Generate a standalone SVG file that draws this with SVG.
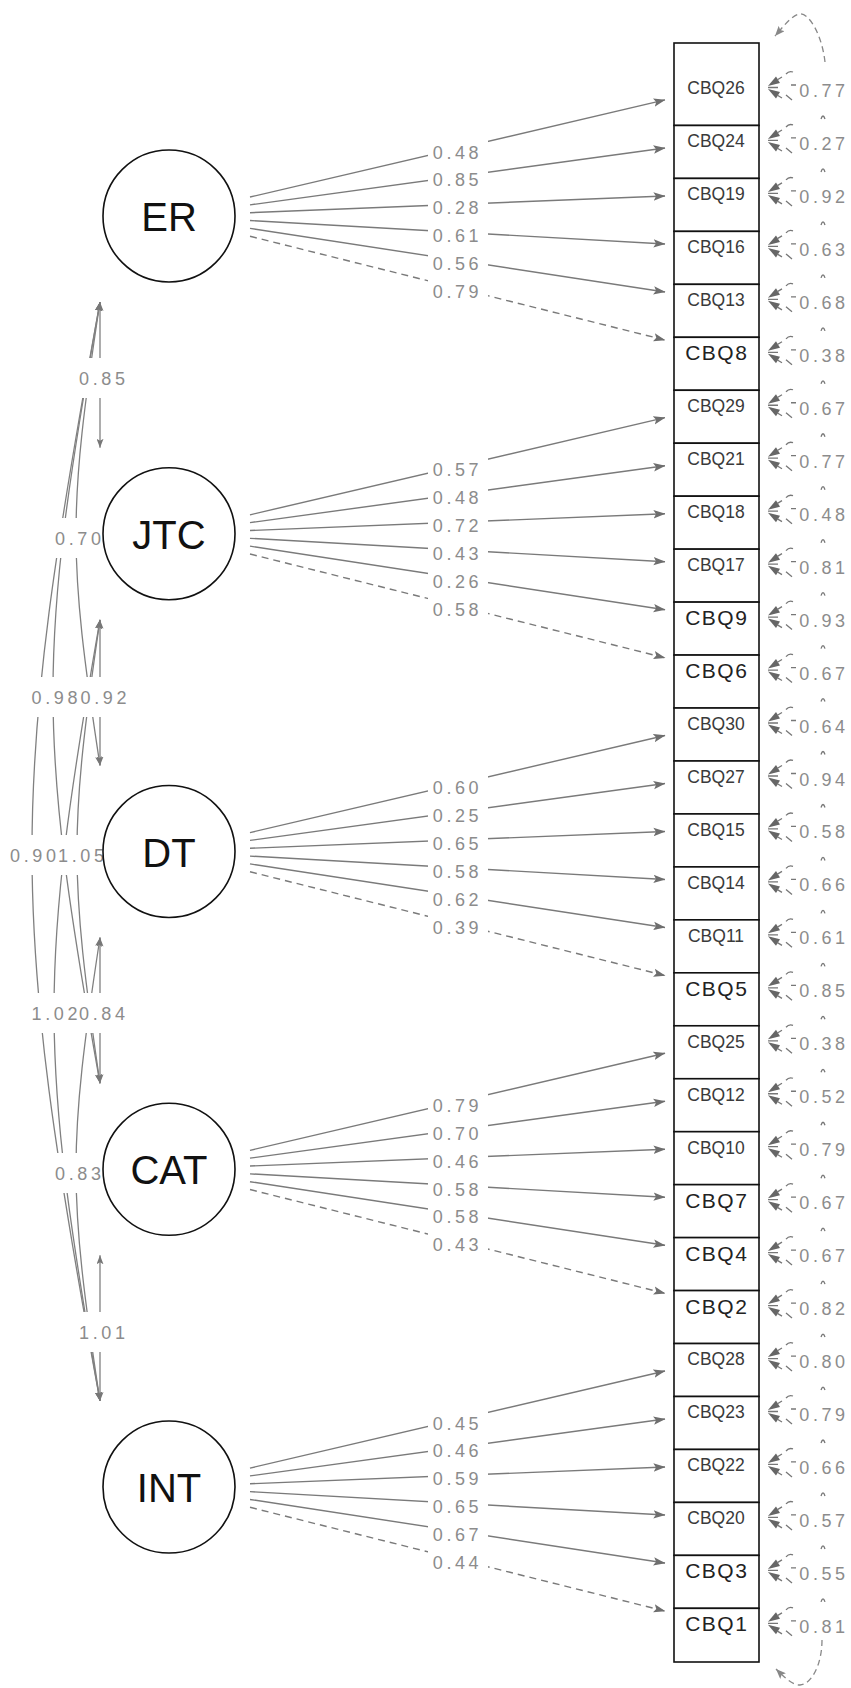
<svg xmlns="http://www.w3.org/2000/svg" xmlns:xlink="http://www.w3.org/1999/xlink" width="851" height="1688" viewBox="0 0 851 1688">
  <style>
    .lat circle { fill: #fff; stroke: #111; stroke-width: 1.6; }
    .lat text { font-family: "Liberation Sans", Arial, sans-serif; font-size: 40px; fill: #111; text-anchor: middle; }
    .man rect { fill: #fff; stroke: #111; stroke-width: 1.6; }
    .man text { font-family: "Liberation Sans", Arial, sans-serif; text-anchor: middle; }
    .sm { font-size: 17.5px; fill: #3a3a3a; }
    .lg { font-size: 21px; fill: #222; letter-spacing: 1.5px; }
    .ld { stroke: #7a7a7a; stroke-width: 1.4; fill: none; marker-end: url(#ah); }
    .mk { stroke-dasharray: 7 5; }
    .lbl { font-family: "Liberation Sans", Arial, sans-serif; font-size: 18px; fill: #8c8c8c; letter-spacing: 3.6px; text-anchor: middle; }
    .bg { fill: #fff; }
    .cov { stroke: #808080; stroke-width: 1.3; fill: none; marker-start: url(#ch); marker-end: url(#ch); }
    .res { stroke: #777; stroke-width: 1.3; fill: none; }
    .loop { stroke: #888; stroke-width: 1.3; fill: none; stroke-dasharray: 6 4; marker-end: url(#lh); }
  </style>
  <defs>
    <marker id="ah" viewBox="0 0 12 10" refX="11.5" refY="5" markerWidth="12" markerHeight="10" markerUnits="userSpaceOnUse" orient="auto">
      <path d="M0,0.8 L12,5 L0,9.2 L2.5,5 Z" fill="#6e6e6e"/>
    </marker>
    <marker id="ch" viewBox="0 0 9 7" refX="9" refY="3.5" markerWidth="9" markerHeight="7" markerUnits="userSpaceOnUse" orient="auto-start-reverse">
      <path d="M0,0 L9,3.5 L0,7 L2,3.5 Z" fill="#777"/>
    </marker>
    <marker id="lh" viewBox="0 0 10 8" refX="10" refY="4" markerWidth="10" markerHeight="8" markerUnits="userSpaceOnUse" orient="auto">
      <path d="M0,0 L10,4 L0,8 L2,4 Z" fill="#888"/>
    </marker>
    <!-- residual variance marks, origin on the right edge of a box at its label height -->
    <g id="rm">
      <polygon points="9,-2 21,-5 17,-11.5" fill="#666"/>
      <polygon points="9,1 21,4 17,10.5" fill="#666"/>
      <path class="res" d="M 9,-0.5 L 19,-0.5 M 18,-8 L 23,-11 M 18,7 L 23,10"/>
      <path class="res" d="M 27,-14 Q 30,-17.5 34,-16 M 32,-3 L 37,-3 M 27,7 L 33,12"/>
    </g>
    <path id="tick" class="res" d="M 62,31 Q 64,25 66,31"/>
  </defs>

  <!-- connectors -->
  <g id="connectors">
    <!-- factor loadings: one block per latent, local origin at the latent's height -->
    <g id="loadings-ER" transform="translate(0,216)">
      <path class="ld" d="M250,-18.95 L665,-116.07"/>
      <path class="ld" d="M250,-11.11 L665,-68.04"/>
      <path class="ld" d="M250,-3.27 L665,-20.02"/>
      <path class="ld" d="M250,4.57 L665,28"/>
      <path class="ld" d="M250,12.41 L665,76.02"/>
      <path class="ld mk" d="M250,20.26 L665,124.04"/>
      <rect class="bg" x="428" y="-76.5" width="60" height="22"/>
      <rect class="bg" x="428" y="-48.6" width="60" height="22"/>
      <rect class="bg" x="428" y="-20.7" width="60" height="22"/>
      <rect class="bg" x="428" y="7.3" width="60" height="22"/>
      <rect class="bg" x="428" y="35.2" width="60" height="22"/>
      <rect class="bg" x="428" y="63.2" width="60" height="22"/>
      <text class="lbl" x="457.5" y="-57.5">0.48</text>
      <text class="lbl" x="457.5" y="-29.6">0.85</text>
      <text class="lbl" x="457.5" y="-1.6">0.28</text>
      <text class="lbl" x="457.5" y="26.3">0.61</text>
      <text class="lbl" x="457.5" y="54.2">0.56</text>
      <text class="lbl" x="457.5" y="82.2">0.79</text>
    </g>
    <g id="loadings-JTC" transform="translate(0,533.76)">
      <path class="ld" d="M250,-18.95 L665,-116.07"/>
      <path class="ld" d="M250,-11.11 L665,-68.04"/>
      <path class="ld" d="M250,-3.27 L665,-20.02"/>
      <path class="ld" d="M250,4.57 L665,28"/>
      <path class="ld" d="M250,12.41 L665,76.02"/>
      <path class="ld mk" d="M250,20.26 L665,124.04"/>
      <rect class="bg" x="428" y="-76.5" width="60" height="22"/>
      <rect class="bg" x="428" y="-48.6" width="60" height="22"/>
      <rect class="bg" x="428" y="-20.7" width="60" height="22"/>
      <rect class="bg" x="428" y="7.3" width="60" height="22"/>
      <rect class="bg" x="428" y="35.2" width="60" height="22"/>
      <rect class="bg" x="428" y="63.2" width="60" height="22"/>
      <text class="lbl" x="457.5" y="-57.5">0.57</text>
      <text class="lbl" x="457.5" y="-29.6">0.48</text>
      <text class="lbl" x="457.5" y="-1.6">0.72</text>
      <text class="lbl" x="457.5" y="26.3">0.43</text>
      <text class="lbl" x="457.5" y="54.2">0.26</text>
      <text class="lbl" x="457.5" y="82.2">0.58</text>
    </g>
    <g id="loadings-DT" transform="translate(0,851.52)">
      <path class="ld" d="M250,-18.95 L665,-116.07"/>
      <path class="ld" d="M250,-11.11 L665,-68.04"/>
      <path class="ld" d="M250,-3.27 L665,-20.02"/>
      <path class="ld" d="M250,4.57 L665,28"/>
      <path class="ld" d="M250,12.41 L665,76.02"/>
      <path class="ld mk" d="M250,20.26 L665,124.04"/>
      <rect class="bg" x="428" y="-76.5" width="60" height="22"/>
      <rect class="bg" x="428" y="-48.6" width="60" height="22"/>
      <rect class="bg" x="428" y="-20.7" width="60" height="22"/>
      <rect class="bg" x="428" y="7.3" width="60" height="22"/>
      <rect class="bg" x="428" y="35.2" width="60" height="22"/>
      <rect class="bg" x="428" y="63.2" width="60" height="22"/>
      <text class="lbl" x="457.5" y="-57.5">0.60</text>
      <text class="lbl" x="457.5" y="-29.6">0.25</text>
      <text class="lbl" x="457.5" y="-1.6">0.65</text>
      <text class="lbl" x="457.5" y="26.3">0.58</text>
      <text class="lbl" x="457.5" y="54.2">0.62</text>
      <text class="lbl" x="457.5" y="82.2">0.39</text>
    </g>
    <g id="loadings-CAT" transform="translate(0,1169.28)">
      <path class="ld" d="M250,-18.95 L665,-116.07"/>
      <path class="ld" d="M250,-11.11 L665,-68.04"/>
      <path class="ld" d="M250,-3.27 L665,-20.02"/>
      <path class="ld" d="M250,4.57 L665,28"/>
      <path class="ld" d="M250,12.41 L665,76.02"/>
      <path class="ld mk" d="M250,20.26 L665,124.04"/>
      <rect class="bg" x="428" y="-76.5" width="60" height="22"/>
      <rect class="bg" x="428" y="-48.6" width="60" height="22"/>
      <rect class="bg" x="428" y="-20.7" width="60" height="22"/>
      <rect class="bg" x="428" y="7.3" width="60" height="22"/>
      <rect class="bg" x="428" y="35.2" width="60" height="22"/>
      <rect class="bg" x="428" y="63.2" width="60" height="22"/>
      <text class="lbl" x="457.5" y="-57.5">0.79</text>
      <text class="lbl" x="457.5" y="-29.6">0.70</text>
      <text class="lbl" x="457.5" y="-1.6">0.46</text>
      <text class="lbl" x="457.5" y="26.3">0.58</text>
      <text class="lbl" x="457.5" y="54.2">0.58</text>
      <text class="lbl" x="457.5" y="82.2">0.43</text>
    </g>
    <g id="loadings-INT" transform="translate(0,1487.04)">
      <path class="ld" d="M250,-18.95 L665,-116.07"/>
      <path class="ld" d="M250,-11.11 L665,-68.04"/>
      <path class="ld" d="M250,-3.27 L665,-20.02"/>
      <path class="ld" d="M250,4.57 L665,28"/>
      <path class="ld" d="M250,12.41 L665,76.02"/>
      <path class="ld mk" d="M250,20.26 L665,124.04"/>
      <rect class="bg" x="428" y="-76.5" width="60" height="22"/>
      <rect class="bg" x="428" y="-48.6" width="60" height="22"/>
      <rect class="bg" x="428" y="-20.7" width="60" height="22"/>
      <rect class="bg" x="428" y="7.3" width="60" height="22"/>
      <rect class="bg" x="428" y="35.2" width="60" height="22"/>
      <rect class="bg" x="428" y="63.2" width="60" height="22"/>
      <text class="lbl" x="457.5" y="-57.5">0.45</text>
      <text class="lbl" x="457.5" y="-29.6">0.46</text>
      <text class="lbl" x="457.5" y="-1.6">0.59</text>
      <text class="lbl" x="457.5" y="26.3">0.65</text>
      <text class="lbl" x="457.5" y="54.2">0.67</text>
      <text class="lbl" x="457.5" y="82.2">0.44</text>
    </g>

    <!-- latent covariances, bowed out to the left -->
    <g id="covariances">
      <path class="cov" d="M100,302 L100,447.8"/>
      <path class="cov" d="M100,302 C68,510.6 68,556.9 100,765.5"/>
      <path class="cov" d="M100,302 C37.3,653.6 37.3,731.7 100,1083.3"/>
      <path class="cov" d="M100,302 C9.3,796.6 9.3,906.4 100,1401"/>
      <path class="cov" d="M100,619.8 L100,765.5"/>
      <path class="cov" d="M100,619.8 C69.3,828.4 69.3,874.7 100,1083.3"/>
      <path class="cov" d="M100,619.8 C38.7,971.3 38.7,1049.5 100,1401"/>
      <path class="cov" d="M100,937.5 L100,1083.3"/>
      <path class="cov" d="M100,937.5 C68,1146.1 68,1192.4 100,1401"/>
      <path class="cov" d="M100,1255.3 L100,1401"/>
      <rect class="bg" x="77" y="358" width="50" height="40"/>
      <rect class="bg" x="53" y="518" width="50" height="40"/>
      <rect class="bg" x="30" y="677" width="50" height="40"/>
      <rect class="bg" x="78" y="677" width="50" height="40"/>
      <rect class="bg" x="8" y="835" width="50" height="40"/>
      <rect class="bg" x="56" y="835" width="50" height="40"/>
      <rect class="bg" x="30" y="993" width="50" height="40"/>
      <rect class="bg" x="77" y="993" width="50" height="40"/>
      <rect class="bg" x="53" y="1153" width="50" height="40"/>
      <rect class="bg" x="77" y="1312" width="50" height="40"/>
      <text class="lbl" x="103.8" y="384.5">0.85</text>
      <text class="lbl" x="79.8" y="544.5">0.70</text>
      <text class="lbl" x="56.3" y="703.5">0.98</text>
      <text class="lbl" x="105.3" y="703.5">0.92</text>
      <text class="lbl" x="34.8" y="861.5">0.90</text>
      <text class="lbl" x="82.8" y="861.5">1.05</text>
      <text class="lbl" x="56.3" y="1019.5">1.02</text>
      <text class="lbl" x="103.8" y="1019.5">0.84</text>
      <text class="lbl" x="79.8" y="1179.5">0.83</text>
      <text class="lbl" x="103.8" y="1338.5">1.01</text>
    </g>

    <!-- residual variances on the right of the indicator column -->
    <g id="residuals">
      <path class="loop" d="M825,62 C822,35 809,12 799,14 C791,16 783,27 775,36"/>
      <path class="loop" d="M822,1640 C822,1664 812,1684 800,1685 C792,1685 784,1677 776,1669"/>
      <use href="#rm" x="759" y="88"/>
      <use href="#rm" x="759" y="140.96"/>
      <use href="#rm" x="759" y="193.92"/>
      <use href="#rm" x="759" y="246.88"/>
      <use href="#rm" x="759" y="299.84"/>
      <use href="#rm" x="759" y="352.8"/>
      <use href="#rm" x="759" y="405.76"/>
      <use href="#rm" x="759" y="458.72"/>
      <use href="#rm" x="759" y="511.68"/>
      <use href="#rm" x="759" y="564.64"/>
      <use href="#rm" x="759" y="617.6"/>
      <use href="#rm" x="759" y="670.56"/>
      <use href="#rm" x="759" y="723.52"/>
      <use href="#rm" x="759" y="776.48"/>
      <use href="#rm" x="759" y="829.44"/>
      <use href="#rm" x="759" y="882.4"/>
      <use href="#rm" x="759" y="935.36"/>
      <use href="#rm" x="759" y="988.32"/>
      <use href="#rm" x="759" y="1041.28"/>
      <use href="#rm" x="759" y="1094.24"/>
      <use href="#rm" x="759" y="1147.2"/>
      <use href="#rm" x="759" y="1200.16"/>
      <use href="#rm" x="759" y="1253.12"/>
      <use href="#rm" x="759" y="1306.08"/>
      <use href="#rm" x="759" y="1359.04"/>
      <use href="#rm" x="759" y="1412"/>
      <use href="#rm" x="759" y="1464.96"/>
      <use href="#rm" x="759" y="1517.92"/>
      <use href="#rm" x="759" y="1570.88"/>
      <use href="#rm" x="759" y="1623.84"/>
      <use href="#tick" x="759" y="88"/>
      <use href="#tick" x="759" y="140.96"/>
      <use href="#tick" x="759" y="193.92"/>
      <use href="#tick" x="759" y="246.88"/>
      <use href="#tick" x="759" y="299.84"/>
      <use href="#tick" x="759" y="352.8"/>
      <use href="#tick" x="759" y="405.76"/>
      <use href="#tick" x="759" y="458.72"/>
      <use href="#tick" x="759" y="511.68"/>
      <use href="#tick" x="759" y="564.64"/>
      <use href="#tick" x="759" y="617.6"/>
      <use href="#tick" x="759" y="670.56"/>
      <use href="#tick" x="759" y="723.52"/>
      <use href="#tick" x="759" y="776.48"/>
      <use href="#tick" x="759" y="829.44"/>
      <use href="#tick" x="759" y="882.4"/>
      <use href="#tick" x="759" y="935.36"/>
      <use href="#tick" x="759" y="988.32"/>
      <use href="#tick" x="759" y="1041.28"/>
      <use href="#tick" x="759" y="1094.24"/>
      <use href="#tick" x="759" y="1147.2"/>
      <use href="#tick" x="759" y="1200.16"/>
      <use href="#tick" x="759" y="1253.12"/>
      <use href="#tick" x="759" y="1306.08"/>
      <use href="#tick" x="759" y="1359.04"/>
      <use href="#tick" x="759" y="1412"/>
      <use href="#tick" x="759" y="1464.96"/>
      <use href="#tick" x="759" y="1517.92"/>
      <use href="#tick" x="759" y="1570.88"/>
      <text class="lbl" x="824" y="97">0.77</text>
      <text class="lbl" x="824" y="150">0.27</text>
      <text class="lbl" x="824" y="202.9">0.92</text>
      <text class="lbl" x="824" y="255.9">0.63</text>
      <text class="lbl" x="824" y="308.8">0.68</text>
      <text class="lbl" x="824" y="361.8">0.38</text>
      <text class="lbl" x="824" y="414.8">0.67</text>
      <text class="lbl" x="824" y="467.7">0.77</text>
      <text class="lbl" x="824" y="520.7">0.48</text>
      <text class="lbl" x="824" y="573.6">0.81</text>
      <text class="lbl" x="824" y="626.6">0.93</text>
      <text class="lbl" x="824" y="679.6">0.67</text>
      <text class="lbl" x="824" y="732.5">0.64</text>
      <text class="lbl" x="824" y="785.5">0.94</text>
      <text class="lbl" x="824" y="838.4">0.58</text>
      <text class="lbl" x="824" y="891.4">0.66</text>
      <text class="lbl" x="824" y="944.4">0.61</text>
      <text class="lbl" x="824" y="997.3">0.85</text>
      <text class="lbl" x="824" y="1050.3">0.38</text>
      <text class="lbl" x="824" y="1103.2">0.52</text>
      <text class="lbl" x="824" y="1156.2">0.79</text>
      <text class="lbl" x="824" y="1209.2">0.67</text>
      <text class="lbl" x="824" y="1262.1">0.67</text>
      <text class="lbl" x="824" y="1315.1">0.82</text>
      <text class="lbl" x="824" y="1368">0.80</text>
      <text class="lbl" x="824" y="1421">0.79</text>
      <text class="lbl" x="824" y="1474">0.66</text>
      <text class="lbl" x="824" y="1526.9">0.57</text>
      <text class="lbl" x="824" y="1579.9">0.55</text>
      <text class="lbl" x="824" y="1632.8">0.81</text>
    </g>
  </g>

  <!-- latent factors -->
  <g id="ER" class="lat"><circle cx="169" cy="216" r="66"/><text x="169" y="231">ER</text></g>
  <g id="JTC" class="lat"><circle cx="169" cy="533.76" r="66"/><text x="169" y="548.8">JTC</text></g>
  <g id="DT" class="lat"><circle cx="169" cy="851.52" r="66"/><text x="169" y="866.5">DT</text></g>
  <g id="CAT" class="lat"><circle cx="169" cy="1169.28" r="66"/><text x="169" y="1184.3">CAT</text></g>
  <g id="INT" class="lat"><circle cx="169" cy="1487.04" r="66"/><text x="169" y="1502">INT</text></g>

  <!-- observed indicators, stacked in one column -->
  <g id="CBQ26" class="man"><rect x="674" y="43" width="85" height="82.46"/><text class="sm" x="716" y="94.3">CBQ26</text></g>
  <g id="CBQ24" class="man"><rect x="674" y="125.46" width="85" height="52.96"/><text class="sm" x="716" y="147.3">CBQ24</text></g>
  <g id="CBQ19" class="man"><rect x="674" y="178.42" width="85" height="52.96"/><text class="sm" x="716" y="200.2">CBQ19</text></g>
  <g id="CBQ16" class="man"><rect x="674" y="231.38" width="85" height="52.96"/><text class="sm" x="716" y="253.2">CBQ16</text></g>
  <g id="CBQ13" class="man"><rect x="674" y="284.34" width="85" height="52.96"/><text class="sm" x="716" y="306.1">CBQ13</text></g>
  <g id="CBQ8" class="man"><rect x="674" y="337.3" width="85" height="52.96"/><text class="lg" x="716.75" y="360.3">CBQ8</text></g>
  <g id="CBQ29" class="man"><rect x="674" y="390.26" width="85" height="52.96"/><text class="sm" x="716" y="412.1">CBQ29</text></g>
  <g id="CBQ21" class="man"><rect x="674" y="443.22" width="85" height="52.96"/><text class="sm" x="716" y="465">CBQ21</text></g>
  <g id="CBQ18" class="man"><rect x="674" y="496.18" width="85" height="52.96"/><text class="sm" x="716" y="518">CBQ18</text></g>
  <g id="CBQ17" class="man"><rect x="674" y="549.14" width="85" height="52.96"/><text class="sm" x="716" y="570.9">CBQ17</text></g>
  <g id="CBQ9" class="man"><rect x="674" y="602.1" width="85" height="52.96"/><text class="lg" x="716.75" y="625.1">CBQ9</text></g>
  <g id="CBQ6" class="man"><rect x="674" y="655.06" width="85" height="52.96"/><text class="lg" x="716.75" y="678.1">CBQ6</text></g>
  <g id="CBQ30" class="man"><rect x="674" y="708.02" width="85" height="52.96"/><text class="sm" x="716" y="729.8">CBQ30</text></g>
  <g id="CBQ27" class="man"><rect x="674" y="760.98" width="85" height="52.96"/><text class="sm" x="716" y="782.8">CBQ27</text></g>
  <g id="CBQ15" class="man"><rect x="674" y="813.94" width="85" height="52.96"/><text class="sm" x="716" y="835.7">CBQ15</text></g>
  <g id="CBQ14" class="man"><rect x="674" y="866.9" width="85" height="52.96"/><text class="sm" x="716" y="888.7">CBQ14</text></g>
  <g id="CBQ11" class="man"><rect x="674" y="919.86" width="85" height="52.96"/><text class="sm" x="716" y="941.7">CBQ11</text></g>
  <g id="CBQ5" class="man"><rect x="674" y="972.82" width="85" height="52.96"/><text class="lg" x="716.75" y="995.8">CBQ5</text></g>
  <g id="CBQ25" class="man"><rect x="674" y="1025.78" width="85" height="52.96"/><text class="sm" x="716" y="1047.6">CBQ25</text></g>
  <g id="CBQ12" class="man"><rect x="674" y="1078.74" width="85" height="52.96"/><text class="sm" x="716" y="1100.5">CBQ12</text></g>
  <g id="CBQ10" class="man"><rect x="674" y="1131.7" width="85" height="52.96"/><text class="sm" x="716" y="1153.5">CBQ10</text></g>
  <g id="CBQ7" class="man"><rect x="674" y="1184.66" width="85" height="52.96"/><text class="lg" x="716.75" y="1207.7">CBQ7</text></g>
  <g id="CBQ4" class="man"><rect x="674" y="1237.62" width="85" height="52.96"/><text class="lg" x="716.75" y="1260.6">CBQ4</text></g>
  <g id="CBQ2" class="man"><rect x="674" y="1290.58" width="85" height="52.96"/><text class="lg" x="716.75" y="1313.6">CBQ2</text></g>
  <g id="CBQ28" class="man"><rect x="674" y="1343.54" width="85" height="52.96"/><text class="sm" x="716" y="1365.3">CBQ28</text></g>
  <g id="CBQ23" class="man"><rect x="674" y="1396.5" width="85" height="52.96"/><text class="sm" x="716" y="1418.3">CBQ23</text></g>
  <g id="CBQ22" class="man"><rect x="674" y="1449.46" width="85" height="52.96"/><text class="sm" x="716" y="1471.3">CBQ22</text></g>
  <g id="CBQ20" class="man"><rect x="674" y="1502.42" width="85" height="52.96"/><text class="sm" x="716" y="1524.2">CBQ20</text></g>
  <g id="CBQ3" class="man"><rect x="674" y="1555.38" width="85" height="52.96"/><text class="lg" x="716.75" y="1578.4">CBQ3</text></g>
  <g id="CBQ1" class="man"><rect x="674" y="1608.34" width="85" height="53.66"/><text class="lg" x="716.75" y="1631.3">CBQ1</text></g>
</svg>
